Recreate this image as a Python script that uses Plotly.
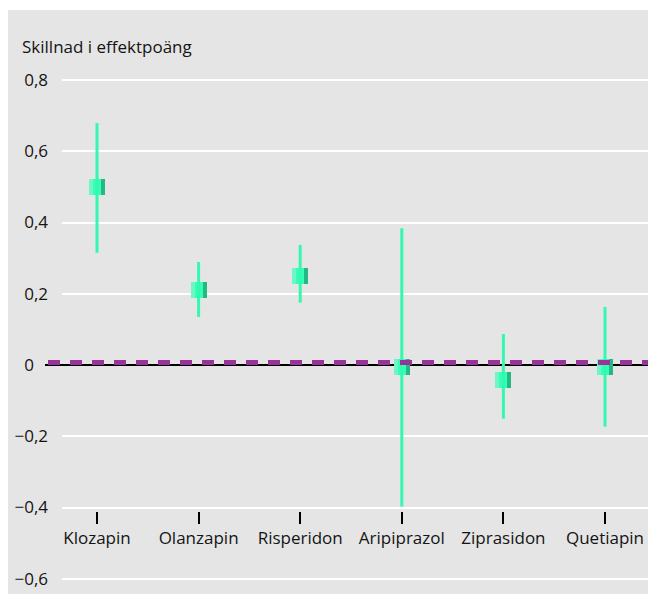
import plotly.graph_objects as go

# ---- data ----
categories = ["Klozapin", "Olanzapin", "Risperidon", "Aripiprazol", "Ziprasidon", "Quetiapin"]
mean_diff = [0.50, 0.21, 0.25, -0.005, -0.042, -0.006]
ci_lower = [0.315, 0.135, 0.175, -0.397, -0.151, -0.173]
ci_upper = [0.679, 0.289, 0.337, 0.384, 0.087, 0.163]
y_tickvals = [0.8, 0.6, 0.4, 0.2, 0.0, -0.2, -0.4, -0.6]
y_ticktext = ["0,8", "0,6", "0,4", "0,2",
              "0<span style='color:rgba(0,0,0,0)'>,0</span>",
              "\u22120,2", "\u22120,4", "\u22120,6"]
y_title = "Skillnad i effektpoäng"

# ---- styling ----
OFF = 8                    # page body margin
W, H = 656 - OFF, 594 - OFF
ML, MT = 62 - OFF, 10 - OFF
PW, PH = W - ML, H - MT
FONT = "Open Sans"
FS = 17
TXT = "#141414"
BG = "#e5e5e5"
C_LINE = "#33f8b0"
C_LIGHT = "#6ef6c6"
C_MID = "#33ffb5"
C_DARK = "#24b982"
PURPLE = "#993399"

PX_PER_Y = 356.25          # pixels per unit of y
Y_TOP = 0.8 + 70 / PX_PER_Y
Y_BOT = Y_TOP - PH / PX_PER_Y
PX_PER_X = 101.6           # pixels per category step
X_LEFT = -(97 - 62) / PX_PER_X
X_RIGHT = X_LEFT + PW / PX_PER_X


def page_x(xp):
    return (xp - OFF - ML) / PW


def page_y(yp):
    return (H - (yp - OFF)) / PH


idx = list(range(len(categories)))
px = 1 / PX_PER_X
mark_h = 16 / PX_PER_Y

fig = go.Figure()

# mean markers as three vertical strips (light / mid / dark)
for off, wid, col in [(-8 * px, 4 * px, C_LIGHT), (-4 * px, 8 * px, C_MID), (4 * px, 4 * px, C_DARK)]:
    fig.add_trace(go.Bar(
        x=idx, y=[mark_h] * len(idx), base=[m - mark_h / 2 for m in mean_diff],
        width=wid, offset=off, marker=dict(color=col, line=dict(width=0)),
        showlegend=False, hoverinfo="skip"))

# confidence interval lines
cx, cy = [], []
for i, lo, hi in zip(idx, ci_lower, ci_upper):
    cx += [i, i, None]
    cy += [lo, hi, None]
fig.add_trace(go.Scatter(x=cx, y=cy, mode="lines", line=dict(color=C_LINE, width=3),
                         showlegend=False, hoverinfo="skip"))

shapes = [
    # gray panel extending left of plot area
    dict(type="rect", xref="paper", yref="paper", x0=-ML / PW, x1=1, y0=0, y1=1,
         fillcolor=BG, line=dict(width=0), layer="below"),
    # black zero line extension left of the plot area
    dict(type="line", xref="paper", yref="y", x0=page_x(45), x1=0.001, y0=0, y1=0,
         line=dict(color="black", width=2), layer="below"),
    # purple dashed reference line
    dict(type="line", xref="paper", yref="y", x0=page_x(48), x1=1,
         y0=2.5 / PX_PER_Y, y1=2.5 / PX_PER_Y,
         line=dict(color=PURPLE, width=5, dash="12px,10px"), layer="above"),
]

fig.update_layout(
    template="none",
    width=W, height=H,
    margin=dict(l=ML, r=0, t=MT, b=0, pad=0),
    paper_bgcolor="white", plot_bgcolor=BG,
    barmode="overlay", bargap=0,
    font=dict(family=FONT, size=FS, color=TXT),
    shapes=shapes,
    showlegend=False,
    xaxis=dict(range=[X_LEFT, X_RIGHT], tickvals=idx, ticktext=categories,
               anchor="free", position=page_y(511), side="bottom",
               ticks="outside", ticklen=12, tickwidth=2, tickcolor="black",
               showline=False, showgrid=False, zeroline=False,
               tickfont=dict(family=FONT, size=FS, color=TXT), fixedrange=True),
    yaxis=dict(range=[Y_BOT, Y_TOP], tickvals=y_tickvals, ticktext=y_ticktext,
               showgrid=True, gridcolor="white", gridwidth=2,
               zeroline=True, zerolinecolor="black", zerolinewidth=2,
               showline=False, ticks="", ticklabelstandoff=13,
               tickfont=dict(family=FONT, size=FS, color=TXT), fixedrange=True),
    annotations=[dict(text=y_title, xref="paper", yref="paper",
                      x=page_x(20), y=page_y(46), xanchor="left", yanchor="middle",
                      showarrow=False, font=dict(family=FONT, size=FS, color=TXT))],
)

fig.write_html("out.html")
